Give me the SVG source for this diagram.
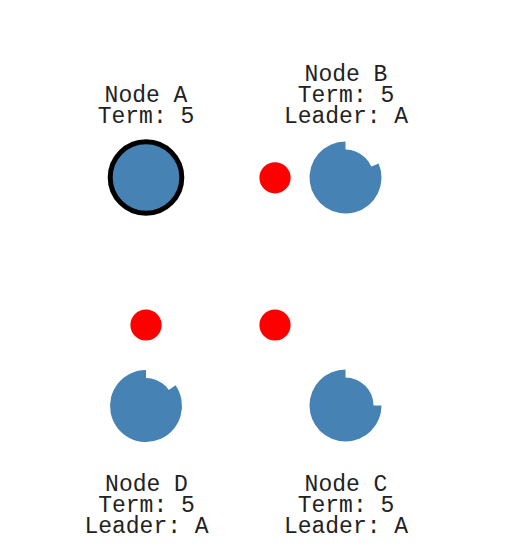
<svg xmlns="http://www.w3.org/2000/svg" width="522" height="555" viewBox="0 0 522 555">
<style>
.srv{fill:#4682B4}
.lead{fill:#4682B4;stroke:#000;stroke-width:5}
.msg{fill:#FF0000}
.lbl{font-family:"Liberation Mono","Courier New",monospace;font-size:23px;fill:#222;text-anchor:middle}
</style>
<rect width="522" height="555" fill="#fff"/>
<g id="nodeA">
<circle class="lead" cx="146" cy="177.5" r="35.8"/>
<text class="lbl" x="146" y="102.3">Node A</text>
<text class="lbl" x="146" y="123.3">Term: 5</text>
</g>
<g id="nodeB">
<circle class="srv" cx="345.5" cy="177.5" r="28"/>
<path class="srv" d="M345.5,177.5 L378.64,163.43 A36,36 0 1 1 345.5,141.5 Z"/>
<text class="lbl" x="346" y="80.7">Node B</text>
<text class="lbl" x="346" y="102.3">Term: 5</text>
<text class="lbl" x="346" y="123.3">Leader: A</text>
</g>
<g id="nodeC">
<circle class="srv" cx="345.5" cy="405.5" r="28"/>
<path class="srv" d="M345.5,405.5 L381.5,405.5 A36,36 0 1 1 345.5,369.5 Z"/>
<text class="lbl" x="346" y="491">Node C</text>
<text class="lbl" x="346" y="512.3">Term: 5</text>
<text class="lbl" x="346" y="533.3">Leader: A</text>
</g>
<g id="nodeD">
<circle class="srv" cx="146" cy="406" r="28"/>
<path class="srv" d="M146,406 L175.49,385.35 A36,36 0 1 1 146,370 Z"/>
<text class="lbl" x="146.5" y="491">Node D</text>
<text class="lbl" x="146.5" y="512.3">Term: 5</text>
<text class="lbl" x="146.5" y="533.3">Leader: A</text>
</g>
<g id="connectors">
<circle class="msg" cx="275" cy="177.8" r="15.6"/>
<circle class="msg" cx="146" cy="325" r="15.6"/>
<circle class="msg" cx="275" cy="325" r="15.6"/>
</g>
</svg>
